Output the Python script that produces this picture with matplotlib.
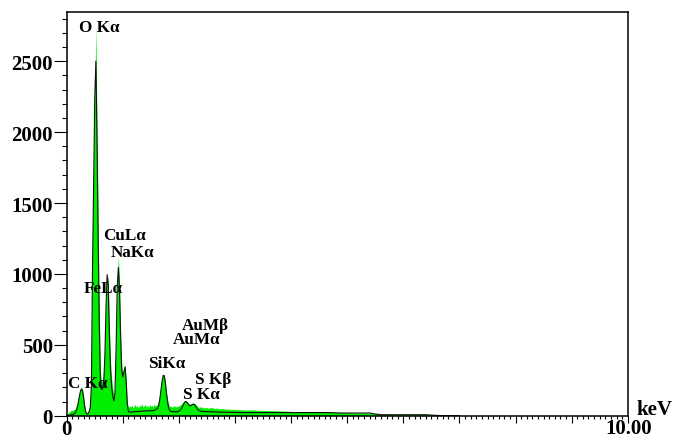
import numpy as np
import matplotlib.pyplot as plt
from matplotlib.ticker import MultipleLocator

plt.rcParams["font.family"] = ["Liberation Serif", "DejaVu Serif"]
plt.rcParams["font.weight"] = "bold"

# detector channels: 0.02 keV up to 3 keV, then 0.1 keV for the flat tail
energy_low = np.round(np.arange(0.0, 3.0, 0.02), 2)
energy_tail = np.round(np.arange(3.0, 7.01, 0.1), 1)

# raw spectrum (green fill)
counts_low = [
    0, 15, 25, 30, 40, 35, 45, 40, 60, 80,
    110, 150, 185, 200, 190, 140, 70, 30, 20, 25,
    45, 90, 280, 1300, 1750, 2300, 2740, 2000, 1400, 750,
    320, 240, 250, 310, 490, 810, 990, 960, 640, 390,
    260, 200, 140, 190, 560, 960, 1125, 960, 620, 360,
    300, 335, 355, 260, 95, 55, 70, 60, 75, 55,
    65, 80, 60, 70, 55, 75, 65, 85, 60, 70,
    78, 62, 72, 58, 80, 66, 74, 60, 82, 70,
    72, 80, 105, 150, 215, 268, 292, 285, 235, 165,
    110, 78, 62, 70, 58, 66, 72, 60, 68, 64,
    70, 74, 80, 88, 98, 105, 108, 100, 92, 84,
    80, 84, 88, 90, 86, 78, 70, 62, 58, 64,
    56, 62, 52, 60, 55, 58, 50, 57, 54, 60,
    52, 56, 48, 55, 50, 53, 47, 52, 49, 51,
    46, 50, 44, 48, 45, 47, 42, 46, 43, 45,
]
counts_tail = [
    44, 42, 40, 41, 38, 37, 36, 35, 34, 33,
    30, 29, 28, 28, 27, 27, 26, 26, 24, 22,
    21, 20, 20, 19, 19, 15, 10, 9, 8, 8,
    8, 7, 7, 7, 6, 5, 3, 2, 1, 0, 0,
]

# fitted spectrum (black line)
fit_low = [
    0, 2, 4, 5, 7, 8, 10, 15, 25, 45,
    80, 125, 165, 188, 180, 130, 65, 25, 12, 15,
    30, 60, 210, 1050, 1650, 2250, 2500, 1950, 1250, 650,
    260, 185, 190, 240, 420, 760, 995, 920, 580, 330,
    200, 140, 105, 160, 480, 900, 1045, 900, 560, 320,
    275, 310, 345, 235, 80, 30, 25, 25, 26, 27,
    28, 28, 29, 30, 30, 31, 31, 32, 32, 33,
    33, 34, 34, 34, 35, 35, 35, 36, 38, 42,
    45, 52, 75, 120, 185, 245, 285, 280, 225, 150,
    90, 50, 35, 30, 29, 28, 28, 28, 28, 29,
    32, 38, 48, 62, 80, 94, 100, 96, 85, 74,
    70, 74, 79, 81, 77, 66, 52, 42, 36, 33,
    31, 30, 30, 29, 29, 29, 28, 28, 28, 28,
    27, 27, 27, 26, 26, 26, 26, 25, 25, 25,
    25, 25, 24, 24, 24, 24, 23, 23, 23, 23,
]
fit_tail = [
    23, 22, 22, 22, 22, 22, 22, 22, 22, 22,
    22, 22, 22, 22, 22, 22, 22, 22, 20, 19,
    19, 19, 19, 19, 19, 12, 7, 7, 7, 7,
    7, 7, 7, 7, 7, 4, 2, 0, 0, 0, 0,
]

peak_names = ["O Kα", "CuLα", "NaKα", "FeLα", "C Kα",
              "SiKα", "AuMβ", "AuMα", "S Kβ", "S Kα"]
label_kev = [0.225, 0.652, 0.79, 0.296, 0.029, 1.455, 2.05, 1.90, 2.287, 2.068]
label_cnt = [2714, 1246, 1127, 870, 202, 342, 612, 513, 232, 128]

energy = np.concatenate([energy_low, energy_tail])
counts = np.array(counts_low + counts_tail)
fit = np.array(fit_low + fit_tail)

fig = plt.figure(figsize=(6.74, 4.39), dpi=100)
ax = fig.add_axes([0.099, 0.0508, 0.8324, 0.9189])

ax.fill_between(energy, counts, color="#00ee00", lw=0, zorder=1)
ax.plot(energy, fit, color="#111111", lw=0.8, zorder=2)

for name, x, y in zip(peak_names, label_kev, label_cnt):
    ax.text(x, y, name, fontsize=12.3, fontweight="bold", ha="left",
            va="baseline", zorder=3)

ax.set_xlim(0, 10)
ax.set_ylim(0, 2845)

ax.set_yticks(range(0, 2501, 500))
ax.yaxis.set_minor_locator(MultipleLocator(100))
ax.set_xticks(range(0, 11))
ax.set_xticklabels([])
ax.xaxis.set_minor_locator(MultipleLocator(0.1))

ax.tick_params(axis="y", which="major", direction="out", length=9.4,
               width=0.8, pad=0.5, labelsize=15)
ax.tick_params(axis="y", which="minor", direction="out", length=3.6, width=0.8)
ax.tick_params(axis="x", which="major", direction="out", length=4.8, width=0.8)
ax.tick_params(axis="x", which="minor", direction="out", length=2.3, width=0.8)
for lab in ax.get_yticklabels():
    lab.set_fontweight("bold")

for side in ax.spines.values():
    side.set_linewidth(1.1)

ax.annotate("0", xy=(0, 0), xycoords=("data", "axes fraction"),
            xytext=(0, -2.5), textcoords="offset points", ha="center",
            va="top", fontsize=15, fontweight="bold")
ax.annotate("10.00", xy=(10.01, 0), xycoords=("data", "axes fraction"),
            xytext=(0, -1.5), textcoords="offset points", ha="center",
            va="top", fontsize=15, fontweight="bold")
fig.text(636.5 / 674, 1 - 415 / 439, "keV", ha="left", va="baseline",
         fontsize=15, fontweight="bold")

fig.savefig("out.png", dpi=100)
